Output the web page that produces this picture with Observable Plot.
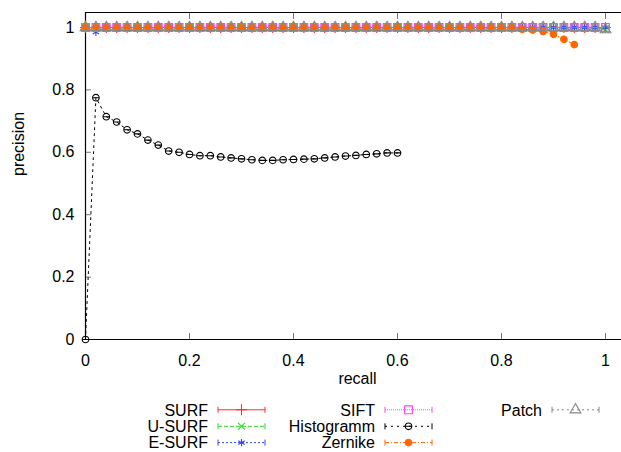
<!DOCTYPE html>
<html><head><meta charset="utf-8">
<script src="https://cdn.jsdelivr.net/npm/d3@7"></script>
<script src="https://cdn.jsdelivr.net/npm/@observablehq/plot@0.6"></script>
<style>
html,body{margin:0;padding:0;background:#fff;overflow:hidden;width:621px;height:452px;}
#chart svg{display:block}
</style></head><body><div id="chart"></div>
<script>
// ---------------- data ----------------
const recall = [0,0.02,0.04,0.06,0.08,0.1,0.12,0.14,0.16,0.18,0.2,0.22,0.24,0.26,0.28,0.3,0.32,0.34,0.36,0.38,0.4,0.42,0.44,0.46,0.48,0.5,0.52,0.54,0.56,0.58,0.6,0.62,0.64,0.66,0.68,0.7,0.72,0.74,0.76,0.78,0.8,0.82,0.84,0.86,0.88,0.9,0.92,0.94,0.96,0.98,1];
const surfPrecision  = [1,1,1,1,1,1,1,1,1,1,1,1,1,1,1,1,1,1,1,1,1,1,1,1,1,1,1,1,1,1,1,1,1,1,1,1,1,1,1,1,1,1,1,1,1,1,1,1,1,1,1];
const usurfPrecision = [1,1,1,1,1,1,1,1,1,1,1,1,1,1,1,1,1,1,1,1,1,1,1,1,1,1,1,1,1,1,1,1,1,1,1,1,1,1,1,1,1,1,1,1,1,1,1,1,1,1,0.993];
const esurfPrecision = [1,0.985,1,1,1,1,1,1,1,1,1,1,1,1,1,1,1,1,1,1,1,1,1,1,1,1,1,1,1,1,1,1,1,1,1,1,1,1,1,1,1,1,1,1,1,1,1,1,1,1,1];
const siftPrecision  = [1,1,1,1,1,1,1,1,1,1,1,1,1,1,1,1,1,1,1,1,1,1,1,1,1,1,1,1,1,1,1,1,1,1,1,1,1,1,1,1,1,1,1,1,1,1,1,1,1,1,1];
const histRecall = [0,0.02,0.04,0.06,0.08,0.1,0.12,0.14,0.16,0.18,0.2,0.22,0.24,0.26,0.28,0.3,0.32,0.34,0.36,0.38,0.4,0.42,0.44,0.46,0.48,0.5,0.52,0.54,0.56,0.58,0.6];
const histPrecision = [0,0.775,0.714,0.697,0.672,0.659,0.639,0.623,0.604,0.600,0.593,0.589,0.589,0.585,0.582,0.579,0.576,0.574,0.574,0.576,0.577,0.578,0.579,0.582,0.585,0.588,0.590,0.593,0.595,0.598,0.598];
const zernikeRecall = [0,0.02,0.04,0.06,0.08,0.1,0.12,0.14,0.16,0.18,0.2,0.22,0.24,0.26,0.28,0.3,0.32,0.34,0.36,0.38,0.4,0.42,0.44,0.46,0.48,0.5,0.52,0.54,0.56,0.58,0.6,0.62,0.64,0.66,0.68,0.7,0.72,0.74,0.76,0.78,0.8,0.82,0.84,0.86,0.88,0.9,0.92,0.94];
const zernikePrecision = [1,1,1,1,1,1,1,1,1,1,1,1,1,1,1,1,1,1,1,1,1,1,1,1,1,1,1,1,1,1,1,1,1,1,1,1,1,1,1,1,1,1,0.994,0.992,0.987,0.978,0.962,0.945];
const patchPrecision = [1,1,1,1,1,1,1,1,1,1,1,1,1,1,1,1,1,1,1,1,1,1,1,1,1,1,1,1,1,1,1,1,1,1,1,1,1,1,1,1,1,1,1,1,1,1,1,1,1,1,0.993];

const seriesNames = ["SURF","U-SURF","E-SURF","SIFT","Histogramm","Zernike","Patch"];
const xTicks = [0,0.2,0.4,0.6,0.8,1];
const xTickLabels = ["0","0.2","0.4","0.6","0.8","1"];
const yTicks = [0,0.2,0.4,0.6,0.8,1];
const yTickLabels = ["0","0.2","0.4","0.6","0.8","1"];
const xTitle = "recall";
const yTitle = "precision";

// ---------------- styles ----------------
const circleBar = {draw(ctx, size){ const r = Math.sqrt(size/Math.PI); ctx.moveTo(r,0); ctx.arc(0,0,r,0,2*Math.PI); ctx.moveTo(-r-0.5,0); ctx.lineTo(r+0.5,0);} };
const symbolByName = {plus: d3.symbolPlus, times: d3.symbolTimes, asterisk: d3.symbolAsterisk, square: d3.symbolSquare, circle: d3.symbolCircle, triangle: d3.symbolTriangle};
const styles = {
  "SURF":       {color:"#ff2a2a", dash:null,      symbol:"plus",     r:3.6, fill:"none"},
  "U-SURF":     {color:"#22dd22", dash:"4,2",     symbol:"times",    r:3.2, fill:"none"},
  "E-SURF":     {color:"#3344ff", dash:"2,2",     symbol:"asterisk", r:3.5, fill:"none"},
  "SIFT":       {color:"#ff44ff", dash:"1,1",     symbol:"square",   r:4.4, fill:"none"},
  "Histogramm": {color:"#000000", dash:"2,4",     symbol:circleBar,  r:3.3, fill:"none"},
  "Zernike":    {color:"#ff6600", dash:"4,2,1,2", symbol:"circle",   r:3.3, fill:"#ff6600"},
  "Patch":      {color:"#888888", dash:"2,3",     symbol:"triangle", r:4.0, fill:"none"}
};

const seriesData = {
  "SURF": recall.map((x,i)=>({x, y: surfPrecision[i]})),
  "U-SURF": recall.map((x,i)=>({x, y: usurfPrecision[i]})),
  "E-SURF": recall.map((x,i)=>({x, y: esurfPrecision[i]})),
  "SIFT": recall.map((x,i)=>({x, y: siftPrecision[i]})),
  "Histogramm": histRecall.map((x,i)=>({x, y: histPrecision[i]})),
  "Zernike": zernikeRecall.map((x,i)=>({x, y: zernikePrecision[i]})),
  "Patch": recall.map((x,i)=>({x, y: patchPrecision[i]}))
};

const FONT = "'Liberation Sans', Arial, Helvetica, sans-serif";
const W = 621, H = 390;
const yTop = 1.048, xRight = 1.0308;

const seriesMarks = seriesNames.flatMap(name => {
  const s = styles[name], d = seriesData[name];
  const sym = typeof s.symbol === "string" ? symbolByName[s.symbol] : s.symbol;
  return [
    Plot.line(d, {x:"x", y:"y", stroke:s.color, strokeWidth:1, strokeDasharray:s.dash ?? undefined}),
    Plot.dot(d, {x:"x", y:"y", symbol:()=>sym, r:s.r, stroke:s.color, fill:s.fill, strokeWidth:1.1})
  ];
});

const chart = Plot.plot({
  width: W, height: H,
  marginLeft: 85, marginRight: 0, marginTop: 12, marginBottom: 51,
  style: {fontFamily: FONT, fontSize: "16px", color: "#000", background: "#fff"},
  x: {domain: [0, xRight]},
  y: {domain: [0, yTop]},
  symbol: {type: "identity"},
  marks: [
    // inward ticks
    Plot.axisX(xTicks.slice(1), {anchor:"bottom", fill:"none", stroke:"#777", tickSize:6, dy:-6, label:null}),
    Plot.axisX(xTicks.slice(1), {anchor:"top", fill:"none", stroke:"#777", tickSize:6, dy:6, label:null}),
    Plot.axisY(yTicks.slice(1), {anchor:"left", fill:"none", stroke:"#777", tickSize:6, dx:6, label:null}),
    // tick labels
    Plot.axisX(xTicks, {anchor:"bottom", tickSize:0, tickPadding:15, tickFormat:(d)=>xTickLabels[xTicks.indexOf(d)], label:null, fontSize:16}),
    Plot.axisY(yTicks, {anchor:"left", tickSize:0, tickPadding:11, tickFormat:(d)=>yTickLabels[yTicks.indexOf(d)], label:null, fontSize:16}),
    // border lines
    Plot.ruleX([0], {stroke:"#000", strokeWidth:1.2}),
    Plot.ruleY([0, yTop], {stroke:"#000", strokeWidth:1.2}),
    // titles
    Plot.text([xTitle], {text:d=>d, frameAnchor:"bottom", dx:4, dy:44, fontSize:16}),
    Plot.text([yTitle], {text:d=>d, frameAnchor:"left", dx:-67, rotate:-90, fontSize:16}),
    ...seriesMarks
  ]
});
document.getElementById("chart").appendChild(chart);

// ---------------- legend ----------------
const legendLayout = [
  {name:"SURF", col:0, row:0}, {name:"U-SURF", col:0, row:1}, {name:"E-SURF", col:0, row:2},
  {name:"SIFT", col:1, row:0}, {name:"Histogramm", col:1, row:1}, {name:"Zernike", col:1, row:2},
  {name:"Patch", col:2, row:0}
];
const colLabelRight = [208, 375, 542];
const sampleLen = 47, sampleGap = 10;
const rowY = [19.8, 36.3, 52.6];
const leg = d3.create("svg").attr("width", W).attr("height", 62).style("display","block").style("overflow","visible").style("font-family", FONT).style("font-size","16px");
legendLayout.forEach(e => {
  const s = styles[e.name];
  const xr = colLabelRight[e.col], y = rowY[e.row];
  const x1 = xr + sampleGap, x2 = x1 + sampleLen, xm = (x1 + x2)/2;
  const g = leg.append("g");
  g.append("text").attr("x", xr).attr("y", y).attr("text-anchor","end").attr("dy","0.36em").attr("fill","#000").text(e.name);
  g.append("line").attr("x1",x1).attr("x2",x2).attr("y1",y).attr("y2",y).attr("stroke",s.color).attr("stroke-width",1).attr("stroke-dasharray", s.dash);
  [x1, x2].forEach(xc => g.append("line").attr("x1",xc).attr("x2",xc).attr("y1",y-3).attr("y2",y+3).attr("stroke",s.color).attr("stroke-width",1));
  const symType = typeof s.symbol === "string" ? symbolByName[s.symbol] : s.symbol;
  g.append("path").attr("transform",`translate(${xm},${y})`).attr("d", d3.symbol(symType, Math.PI*s.r*s.r)()).attr("stroke",s.color).attr("fill",s.fill).attr("stroke-width",1.1);
});
document.getElementById("chart").appendChild(leg.node());
</script>
</body></html>
